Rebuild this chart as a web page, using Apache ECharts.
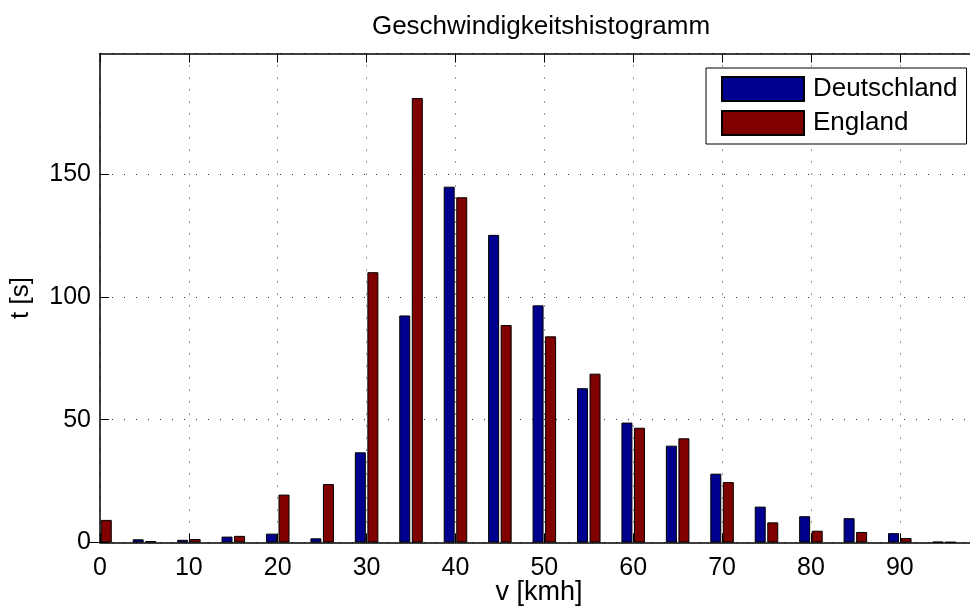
<!DOCTYPE html>
<html>
<head>
<meta charset="utf-8">
<script src="https://cdn.jsdelivr.net/npm/echarts@6/dist/echarts.min.js"></script>
<style>
  html, body { margin: 0; padding: 0; background: #fff; }
  #chart { width: 970px; height: 610px; }
</style>
</head>
<body>
<div id="chart"></div>
<script>
// Histogram bin centres (km/h) and time spent per bin (s)
const speeds      = [0, 5, 10, 15, 20, 25, 30, 35, 40, 45, 50, 55, 60, 65, 70, 75, 80, 85, 90, 95];
const deutschland = [0, 1.3, 1.1, 2.4, 3.6, 1.7, 36.7, 92.4, 144.8, 125.2, 96.5, 62.8, 48.8, 39.4, 28.0, 14.6, 10.7, 9.9, 3.8, 0.3];
const england     = [9.2, 0.6, 1.4, 2.7, 19.5, 23.8, 110.0, 180.9, 140.5, 88.5, 83.9, 68.7, 46.7, 42.4, 24.6, 8.2, 4.8, 4.3, 1.8, 0.2];
const seriesNames = ['Deutschland', 'England'];
const xTicks = [0, 10, 20, 30, 40, 50, 60, 70, 80, 90];
const yTicks = [0, 50, 100, 150];

const FONT = '"Liberation Sans", Arial, Helvetica, sans-serif';
const dotted = { color: '#333', width: 1, type: [1, 11] };

const chart = echarts.init(document.getElementById('chart'), null, { renderer: 'canvas' });

const xBase = {
  type: 'value',
  min: 0,
  max: 97.9,
  interval: 10,
  axisLine: { show: true, onZero: false, lineStyle: { color: '#000', width: 1.5 } },
  axisTick: { show: true, inside: true, length: 9, lineStyle: { color: '#000', width: 1 } }
};

chart.setOption({
  animation: false,
  backgroundColor: '#fff',
  textStyle: { fontFamily: FONT },
  title: {
    text: 'Geschwindigkeitshistogramm',
    left: 541,
    top: 14,
    padding: 0,
    textAlign: 'center',
    textStyle: { fontFamily: FONT, fontSize: 26, fontWeight: 'normal', color: '#000' }
  },
  legend: {
    data: seriesNames,
    orient: 'vertical',
    left: 706,
    top: 68,
    padding: [8, 9, 8, 15],
    itemWidth: 82,
    itemHeight: 24,
    itemGap: 8,
    backgroundColor: '#fff',
    borderColor: '#000',
    borderWidth: 1,
    icon: 'rect',
    selectedMode: false,
    textStyle: { fontFamily: FONT, fontSize: 26, color: '#000', lineHeight: 24, padding: [0, 0, 0, 4] }
  },
  grid: {
    left: 100,
    top: 53.5,
    right: 0,
    height: 489,
    containLabel: false,
    outerBoundsMode: 'none'
  },
  xAxis: [
    Object.assign({}, xBase, {
      position: 'bottom',
      name: 'v [kmh]',
      nameLocation: 'middle',
      nameGap: 37,
      nameMoveOverlap: false,
      nameTextStyle: { fontFamily: FONT, fontSize: 27, color: '#000', padding: [0, 0, 0, 8] },
      axisLabel: {
        margin: 13,
        fontFamily: FONT,
        fontSize: 25,
        color: '#000',
        showMaxLabel: false,
        formatter: v => (xTicks.indexOf(v) >= 0 ? String(v) : '')
      },
      splitLine: { show: true, lineStyle: dotted }
    }),
    Object.assign({}, xBase, {
      position: 'top',
      axisLabel: { show: false },
      splitLine: { show: false }
    })
  ],
  yAxis: {
    type: 'value',
    min: 0,
    max: 199,
    interval: 50,
    name: 't [s]',
    nameLocation: 'middle',
    nameRotate: 90,
    nameGap: 66,
    nameTextStyle: { fontFamily: FONT, fontSize: 26, color: '#000' },
    axisLine: { show: true, lineStyle: { color: '#000', width: 1.5 } },
    axisTick: { show: true, inside: true, length: 9, lineStyle: { color: '#000', width: 1 } },
    axisLabel: {
      margin: 9,
      padding: [4, 0, 0, 0],
      fontFamily: FONT,
      fontSize: 25,
      color: '#000',
      showMaxLabel: false,
      formatter: v => (yTicks.indexOf(v) >= 0 ? String(v) : '')
    },
    splitLine: { show: true, lineStyle: dotted }
  },
  series: [
    {
      name: seriesNames[0],
      type: 'bar',
      xAxisIndex: 0,
      barWidth: 11,
      barGap: '14%',
      clip: true,
      itemStyle: { color: '#00008F', borderColor: '#000', borderWidth: 1 },
      data: speeds.map((v, i) => [v, deutschland[i]])
    },
    {
      name: seriesNames[1],
      type: 'bar',
      xAxisIndex: 0,
      barWidth: 11,
      barGap: '14%',
      clip: true,
      itemStyle: { color: '#800000', borderColor: '#000', borderWidth: 1 },
      data: speeds.map((v, i) => [v, england[i]])
    }
  ]
});
</script>
</body>
</html>
